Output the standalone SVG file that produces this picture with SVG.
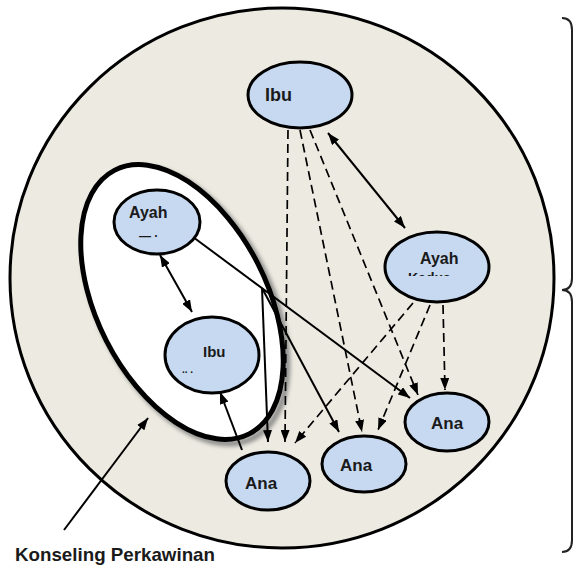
<svg xmlns="http://www.w3.org/2000/svg" width="585" height="568" viewBox="0 0 585 568">
<style>
.node{fill:#C6D9F0;stroke:#000;stroke-width:3}
.lbl{font-family:"Liberation Sans Narrow","Liberation Sans",Arial,sans-serif;font-weight:bold;fill:#1a1a1a}
.sol{fill:none;stroke:#000;stroke-width:2}
.dsh{fill:none;stroke:#000;stroke-width:1.7;stroke-dasharray:9,5}
</style>
<defs>
<marker id="ah" viewBox="0 0 12 9" refX="12" refY="4.5" markerWidth="12" markerHeight="9" markerUnits="userSpaceOnUse" orient="auto-start-reverse">
<path d="M0,0 L12,4.5 L0,9 z" fill="#000"/>
</marker>
<filter id="blur" x="-10%" y="-10%" width="120%" height="120%"><feGaussianBlur stdDeviation="2"/></filter>
</defs>
<rect width="585" height="568" fill="#fff"/>
<g id="family-circle">
<ellipse cx="282" cy="278" rx="272" ry="270" fill="#EDEBE1" stroke="#000" stroke-width="3"/>
</g>
<g id="brace">
<path d="M562,18 Q572,18 572,30 L572,278 Q572,290 562,290 Q572,290 572,302 L572,540 Q572,552 562,552" fill="none" stroke="#222" stroke-width="2"/>
</g>
<g id="konseling-perkawinan">
<ellipse cx="186" cy="306" rx="85" ry="148" transform="rotate(-27 186 306)" fill="none" stroke="#888" stroke-width="6" filter="url(#blur)"/>
<ellipse cx="182" cy="302" rx="85" ry="148" transform="rotate(-27 182 302)" fill="#fff" stroke="#000" stroke-width="5"/>
</g>
<g id="connectors">
<line class="sol" x1="160" y1="255" x2="192" y2="312" marker-start="url(#ah)" marker-end="url(#ah)"/>
<line class="sol" x1="328" y1="133" x2="405" y2="228" marker-start="url(#ah)" marker-end="url(#ah)"/>
<line class="sol" x1="193" y1="237" x2="410" y2="398" marker-end="url(#ah)"/>
<line class="sol" x1="262" y1="288" x2="268" y2="442" marker-end="url(#ah)"/>
<line class="sol" x1="262" y1="288" x2="339" y2="432" marker-end="url(#ah)"/>
<line class="sol" x1="242" y1="450" x2="220" y2="392" marker-end="url(#ah)"/>
<line class="sol" x1="64" y1="530" x2="148" y2="418" marker-end="url(#ah)"/>
<line class="dsh" x1="288" y1="130" x2="285" y2="442" marker-end="url(#ah)"/>
<line class="dsh" x1="300" y1="130" x2="362" y2="432" marker-end="url(#ah)"/>
<line class="dsh" x1="310" y1="130" x2="418" y2="395" marker-end="url(#ah)"/>
<line class="dsh" x1="413" y1="303" x2="295" y2="443" marker-end="url(#ah)"/>
<line class="dsh" x1="430" y1="305" x2="378" y2="430" marker-end="url(#ah)"/>
<line class="dsh" x1="443" y1="305" x2="445" y2="390" marker-end="url(#ah)"/>
</g>
<g id="ibu-top">
<ellipse class="node" cx="300" cy="95" rx="52" ry="33"/>
<text class="lbl" x="265" y="101" font-size="18">Ibu</text>
</g>
<g id="ayah-inner">
<ellipse class="node" cx="157" cy="222" rx="43" ry="32"/>
<text class="lbl" x="129" y="218" font-size="16">Ayah</text>
<text class="lbl" x="139" y="240" font-size="12">—  ·</text>
</g>
<g id="ibu-inner">
<ellipse class="node" cx="212" cy="355" rx="47" ry="38"/>
<text class="lbl" x="203" y="357" font-size="15">Ibu</text>
<text class="lbl" x="182" y="373" font-size="10">..    .</text>
</g>
<g id="ayah-kedua">
<ellipse class="node" cx="437" cy="267" rx="52" ry="35"/>
<text class="lbl" x="420" y="264" font-size="16">Ayah</text>
<clipPath id="kclip"><rect x="400" y="268" width="70" height="8"/></clipPath>
<text class="lbl" x="408" y="283" font-size="14" clip-path="url(#kclip)">Kedua</text>
</g>
<g id="ana-right">
<ellipse class="node" cx="447" cy="422" rx="42" ry="29"/>
<text class="lbl" x="431" y="429" font-size="17">Ana</text>
</g>
<g id="ana-middle">
<ellipse class="node" cx="364" cy="464" rx="42" ry="28"/>
<text class="lbl" x="340" y="471" font-size="17">Ana</text>
</g>
<g id="ana-left">
<ellipse class="node" cx="268" cy="481" rx="42" ry="29"/>
<text class="lbl" x="245" y="489" font-size="17">Ana</text>
</g>
<g id="caption">
<text class="lbl" x="15" y="561" font-size="19" textLength="200" lengthAdjust="spacingAndGlyphs">Konseling Perkawinan</text>
</g>
</svg>
